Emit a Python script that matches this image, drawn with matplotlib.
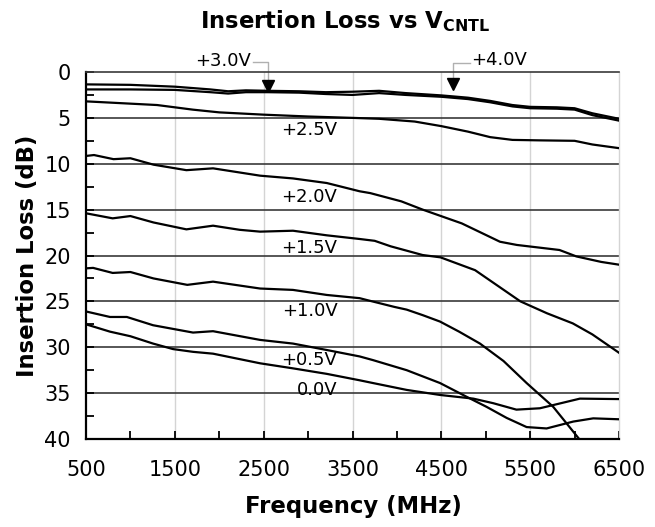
import matplotlib
matplotlib.use("Agg")
import matplotlib.pyplot as plt
import numpy as np

plt.rcParams['font.family'] = ['DejaVu Sans']
plt.rcParams['mathtext.fontset'] = 'dejavusans'

# insertion loss curves, dB vs frequency (MHz)
f_40 = [500, 1000, 1500, 1900, 2100, 2300, 2550, 2900, 3200, 3500, 3800, 4100, 4500, 4800, 5050, 5300, 5500, 5800, 6000, 6200, 6500]
il_40 = [1.35, 1.4, 1.6, 1.9, 2.1, 2.0, 2.05, 2.1, 2.2, 2.15, 2.05, 2.3, 2.55, 2.8, 3.15, 3.6, 3.8, 3.85, 3.95, 4.5, 5.1]
f_30 = [500, 1000, 1500, 1900, 2100, 2300, 2550, 2900, 3200, 3500, 3800, 4100, 4500, 4800, 5050, 5300, 5500, 5800, 6000, 6200, 6500]
il_30 = [1.9, 1.9, 1.95, 2.2, 2.35, 2.2, 2.2, 2.25, 2.4, 2.5, 2.3, 2.5, 2.7, 2.95, 3.3, 3.75, 3.95, 4.0, 4.1, 4.7, 5.3]

f_25 = [500, 1000, 1300, 1700, 2000, 2500, 3000, 3500, 3800, 4200, 4500, 4800, 5050, 5300, 5600, 6000, 6200, 6500]
il_25 = [3.2, 3.45, 3.6, 4.1, 4.4, 4.65, 4.85, 5.0, 5.1, 5.4, 5.9, 6.5, 7.1, 7.4, 7.45, 7.5, 7.9, 8.3]

f_20 = [500, 590, 810, 1000, 1260, 1630, 1930, 2460, 2830, 3210, 3580, 3700, 4050, 4290, 4730, 5160, 5350, 5830, 6020, 6300, 6500]
il_20 = [9.15, 9.05, 9.5, 9.4, 10.1, 10.7, 10.5, 11.3, 11.6, 12.1, 13.0, 13.2, 14.1, 15.0, 16.5, 18.5, 18.85, 19.4, 20.1, 20.7, 21.0]

f_15 = [500, 800, 1000, 1260, 1630, 1930, 2230, 2460, 2830, 3210, 3580, 3750, 3930, 4290, 4490, 4880, 5390, 5690, 5980, 6200, 6500]
il_15 = [15.4, 15.95, 15.7, 16.4, 17.15, 16.75, 17.2, 17.4, 17.3, 17.8, 18.2, 18.4, 19.0, 19.95, 20.2, 21.6, 25.0, 26.3, 27.4, 28.6, 30.6]

f_10 = [500, 580, 800, 1000, 1260, 1640, 1930, 2460, 2830, 3210, 3580, 3660, 3970, 4110, 4290, 4485, 4700, 4935, 5200, 5460, 5760, 6060, 6150]
il_10 = [21.4, 21.35, 21.9, 21.8, 22.5, 23.2, 22.85, 23.6, 23.75, 24.3, 24.65, 24.85, 25.6, 25.9, 26.5, 27.2, 28.3, 29.6, 31.5, 33.9, 36.5, 40.1, 41.0]

f_05 = [500, 770, 960, 1255, 1705, 1930, 2460, 2830, 3210, 3580, 3730, 4110, 4485, 4785, 5010, 5235, 5460, 5685, 5985, 6210, 6500]
il_05 = [26.1, 26.7, 26.7, 27.6, 28.4, 28.25, 29.2, 29.6, 30.3, 31.0, 31.4, 32.5, 33.9, 35.4, 36.5, 37.7, 38.7, 38.85, 38.1, 37.75, 37.85]

f_00 = [500, 770, 1000, 1255, 1480, 1705, 1930, 2460, 2830, 3210, 3580, 3730, 4110, 4485, 4860, 5085, 5345, 5610, 6060, 6500]
il_00 = [27.5, 28.3, 28.8, 29.6, 30.2, 30.5, 30.7, 31.75, 32.3, 32.9, 33.6, 33.9, 34.65, 35.2, 35.6, 36.1, 36.8, 36.65, 35.6, 35.65]

curves = [(f_40, il_40), (f_30, il_30), (f_25, il_25), (f_20, il_20),
          (f_15, il_15), (f_10, il_10), (f_05, il_05), (f_00, il_00)]

# inline curve labels
lab_text = ['+2.5V', '+2.0V', '+1.5V', '+1.0V', '+0.5V', '0.0V']
lab_y = [6.3, 13.6, 19.2, 26.1, 31.4, 34.7]
lab_x = 3330

# arrow markers for the top two curves
mark_text = ['+3.0V', '+4.0V']
mark_f = [2552, 4628]

fig = plt.figure(figsize=(6.55, 5.27), dpi=100)
ax = fig.add_axes([86/655, 1-439/527, 533/655, 367/527])

for f in [1500, 2500, 3500, 4500, 5500]:
    ax.axvline(f, color='#d4d4d4', lw=1.0, zorder=0)
for y in range(5, 40, 5):
    ax.axhline(y, color='#3a3a3a', lw=1.2, zorder=1)

for f, il in curves:
    ax.plot(f, il, color='black', lw=1.6, zorder=3)

for t, y in zip(lab_text, lab_y):
    ax.text(lab_x, y, t, ha='right', va='center', fontsize=13, zorder=4)

# +3.0V marker and leader
ax.plot(mark_f[0], 1.5, marker='v', color='black', ms=9, zorder=5, clip_on=False)
ax.plot([2380, 2552, 2552], [-1.1, -1.1, 0.9], color='#b0b0b0', lw=1, clip_on=False)
ax.text(2360, -1.25, mark_text[0], ha='right', va='center', fontsize=13)
# +4.0V marker and leader
ax.plot(mark_f[1], 1.3, marker='v', color='black', ms=9, zorder=5, clip_on=False)
ax.plot([4823, 4628, 4628], [-1.0, -1.0, 0.5], color='#b0b0b0', lw=1, clip_on=False)
ax.text(4840, -1.35, mark_text[1], ha='left', va='center', fontsize=13)

ax.set_xlim(500, 6500)
ax.set_ylim(40, 0)
ax.set_xticks(range(500, 6501, 1000))
ax.set_xticks(range(1000, 6500, 1000), minor=True)
ax.set_yticks(range(0, 41, 5))
ax.set_yticks(np.arange(2.5, 40, 5), minor=True)
ax.tick_params(axis='x', which='both', direction='in', length=6, width=1.3,
               labelsize=15, pad=15, top=False)
ax.tick_params(axis='y', which='both', direction='in', length=6, width=1.3,
               labelsize=15, pad=11, right=False)

ax.spines['left'].set_linewidth(1.6)
ax.spines['bottom'].set_linewidth(1.6)
ax.spines['top'].set_linewidth(1.2)
ax.spines['top'].set_color('#3a3a3a')
ax.spines['right'].set_color('#d4d4d4')
ax.spines['right'].set_linewidth(1.0)

fig.text(345/655, 1-28/527, r'Insertion Loss vs V$_{\mathbf{CNTL}}$',
         ha='center', va='baseline', fontsize=16.4, fontweight='bold')
fig.text(353/655, 1-506/527, 'Frequency (MHz)', ha='center', va='center',
         fontsize=16.4, fontweight='bold')
fig.text(28/655, 1-256/527, 'Insertion Loss (dB)', ha='center', va='center',
         rotation=90, fontsize=16.4, fontweight='bold')

fig.savefig('out.png', dpi=100)
